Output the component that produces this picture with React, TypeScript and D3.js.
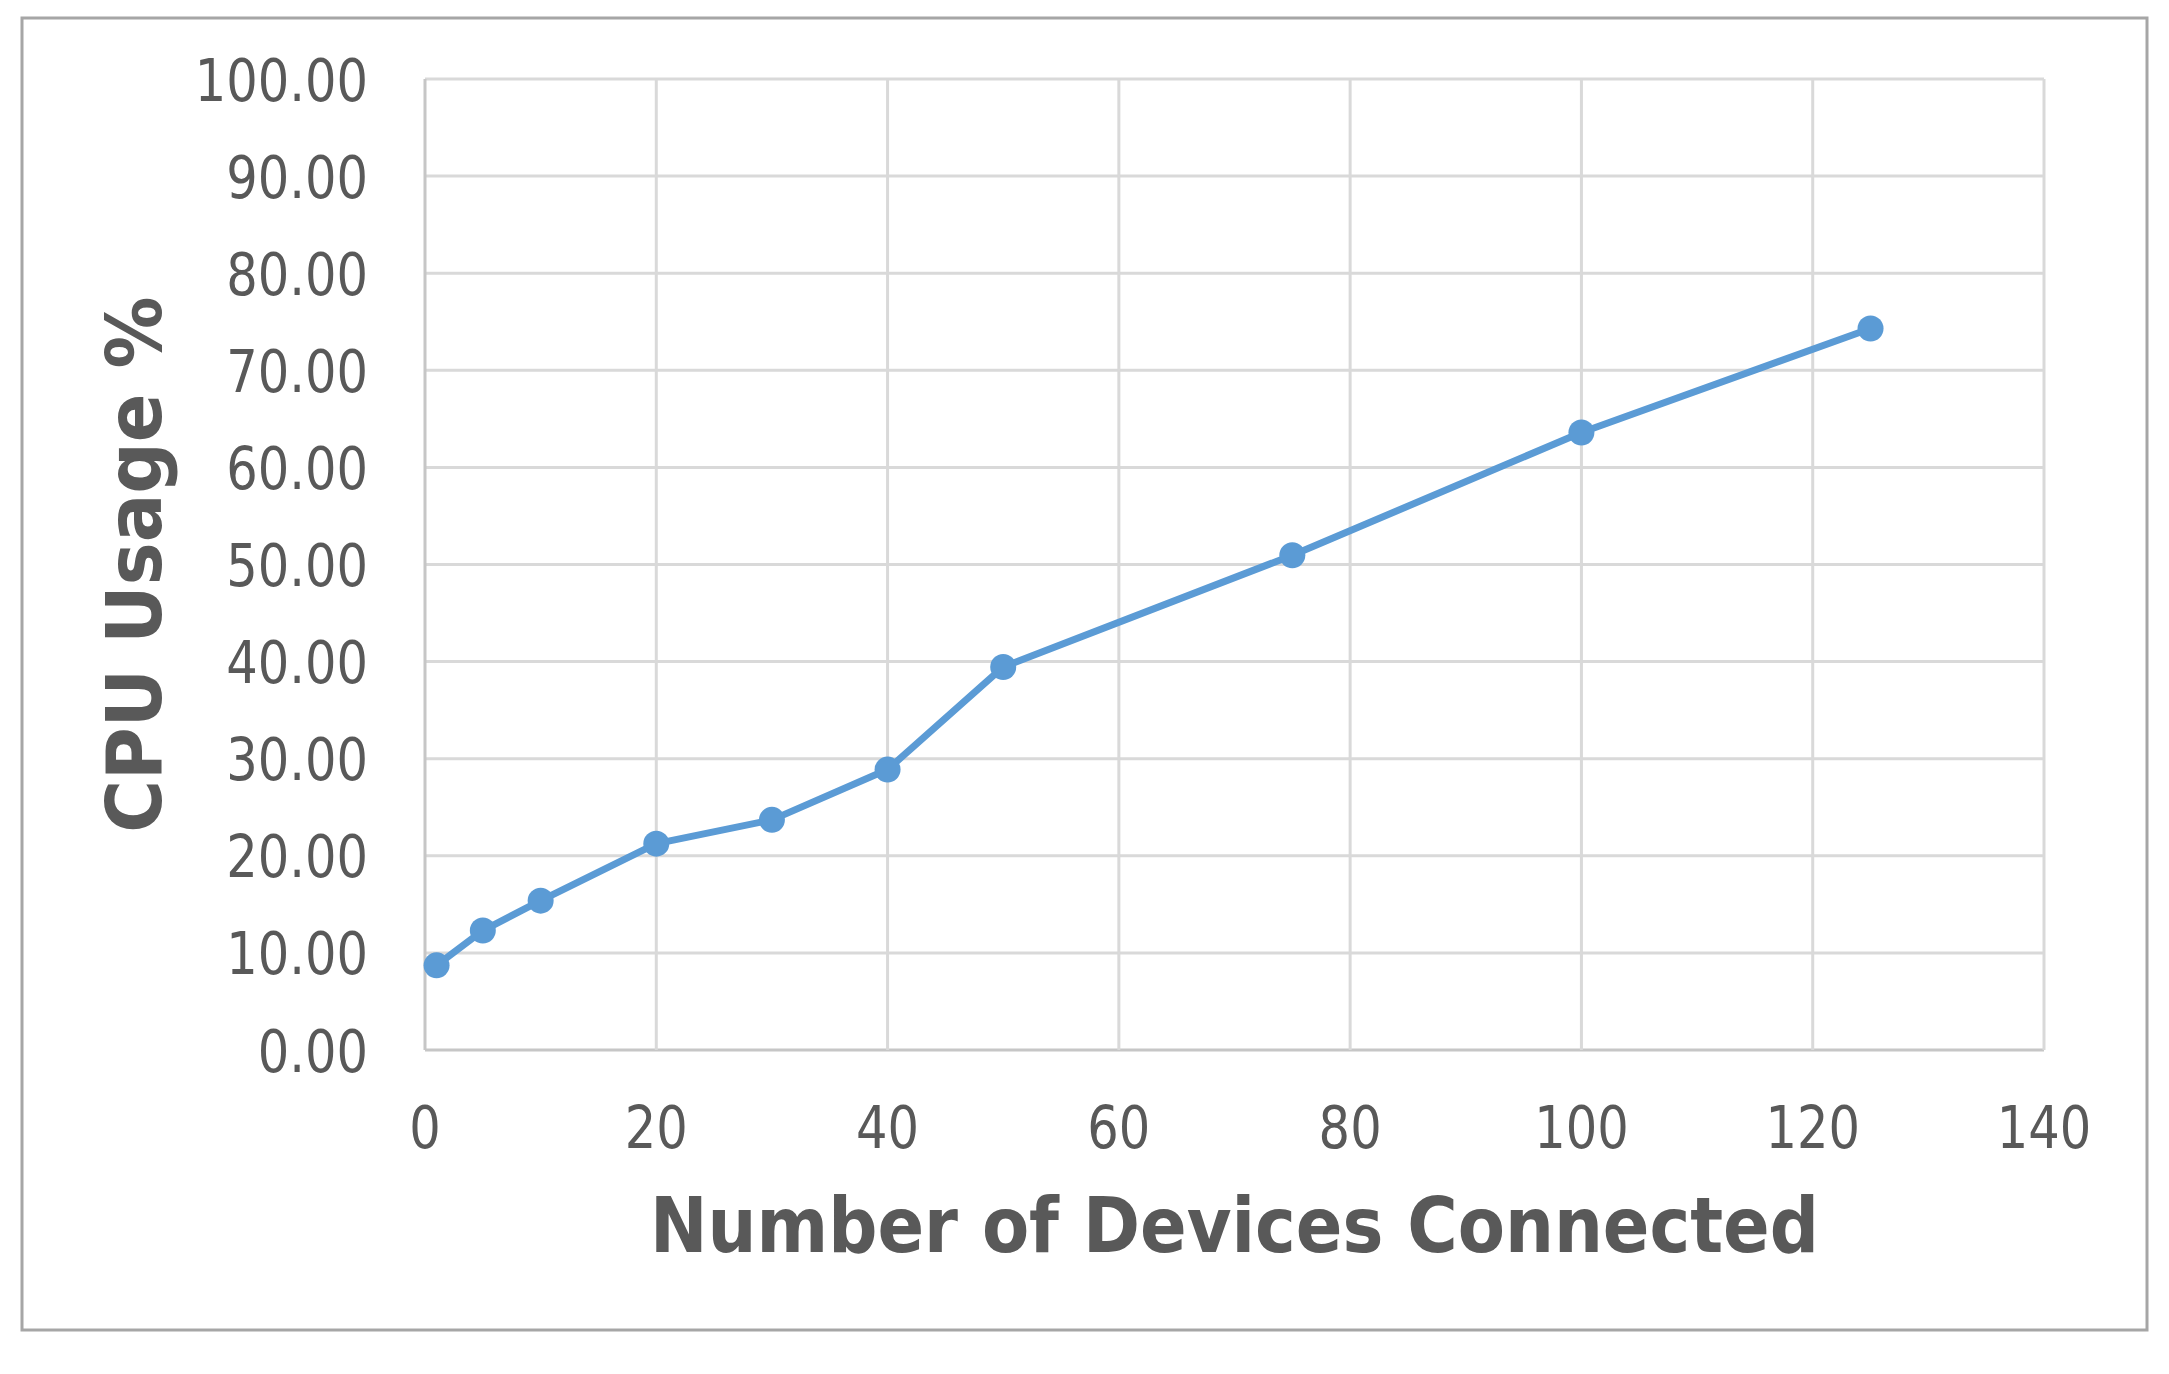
import React from "react";
import * as d3 from "d3";

const devices = [1, 5, 10, 20, 30, 40, 50, 75, 100, 125];
const cpuUsage = [8.72, 12.3, 15.38, 21.25, 23.7, 28.88, 39.45, 50.95, 63.6, 74.3];
const xTicks = [0, 20, 40, 60, 80, 100, 120, 140];
const yTicks = [0, 10, 20, 30, 40, 50, 60, 70, 80, 90, 100];
const xTitle = "Number of Devices Connected";
const yTitle = "CPU Usage %";

const W = 2169;
const H = 1374;
const plot = { left: 425, right: 2044, top: 79, bottom: 1050 };
const FONT = "'DejaVu Sans', Verdana, sans-serif";
const TEXT = "#595959";
const BLUE = "#5b9bd5";

export default function App() {
  const x = d3.scaleLinear().domain([0, 140]).range([plot.left, plot.right]);
  const y = d3.scaleLinear().domain([0, 100]).range([plot.bottom, plot.top]);
  const pts = devices.map((d, i) => [d, cpuUsage[i]] as [number, number]);
  const line = d3
    .line<[number, number]>()
    .x((d) => x(d[0]))
    .y((d) => y(d[1]));

  return (
    <svg
      width={W}
      height={H}
      style={{ position: "absolute", left: 0, top: 0, background: "#fff" }}
    >
      <rect x={0} y={0} width={W} height={H} fill="#fff" />
      <rect
        x={22}
        y={18}
        width={2147 - 22}
        height={1330 - 18}
        fill="#fff"
        stroke="#a6a6a6"
        strokeWidth={3}
      />
      {yTicks.map((t) => (
        <line
          key={"gy" + t}
          x1={plot.left}
          x2={plot.right}
          y1={y(t)}
          y2={y(t)}
          stroke={t === 0 ? "#c6c6c6" : "#d9d9d9"}
          strokeWidth={3}
        />
      ))}
      {xTicks.map((t) => (
        <line
          key={"gx" + t}
          x1={x(t)}
          x2={x(t)}
          y1={plot.top}
          y2={plot.bottom}
          stroke={t === 0 ? "#c6c6c6" : "#d9d9d9"}
          strokeWidth={3}
        />
      ))}
      {yTicks.map((t) => (
        <g key={"ly" + t} transform={`translate(368,${y(t) + 21.5}) scale(0.84,1)`}>
          <text textAnchor="end" fontFamily={FONT} fontSize={59} fill={TEXT}>
            {t.toFixed(2)}
          </text>
        </g>
      ))}
      {xTicks.map((t) => (
        <g key={"lx" + t} transform={`translate(${x(t)},1148) scale(0.84,1)`}>
          <text textAnchor="middle" fontFamily={FONT} fontSize={59} fill={TEXT}>
            {t}
          </text>
        </g>
      ))}
      <path
        d={line(pts) || ""}
        fill="none"
        stroke={BLUE}
        strokeWidth={7}
        strokeLinejoin="round"
      />
      {pts.map((p, i) => (
        <circle key={"p" + i} cx={x(p[0])} cy={y(p[1])} r={13} fill={BLUE} />
      ))}
      <g transform={`translate(${(plot.left + plot.right) / 2},1252) scale(0.893,1)`}>
        <text textAnchor="middle" fontFamily={FONT} fontWeight="bold" fontSize={77} fill={TEXT}>
          {xTitle}
        </text>
      </g>
      <g transform={`translate(161,${(plot.top + plot.bottom) / 2}) rotate(-90) scale(0.935,1)`}>
        <text textAnchor="middle" fontFamily={FONT} fontWeight="bold" fontSize={77} fill={TEXT}>
          {yTitle}
        </text>
      </g>
    </svg>
  );
}
